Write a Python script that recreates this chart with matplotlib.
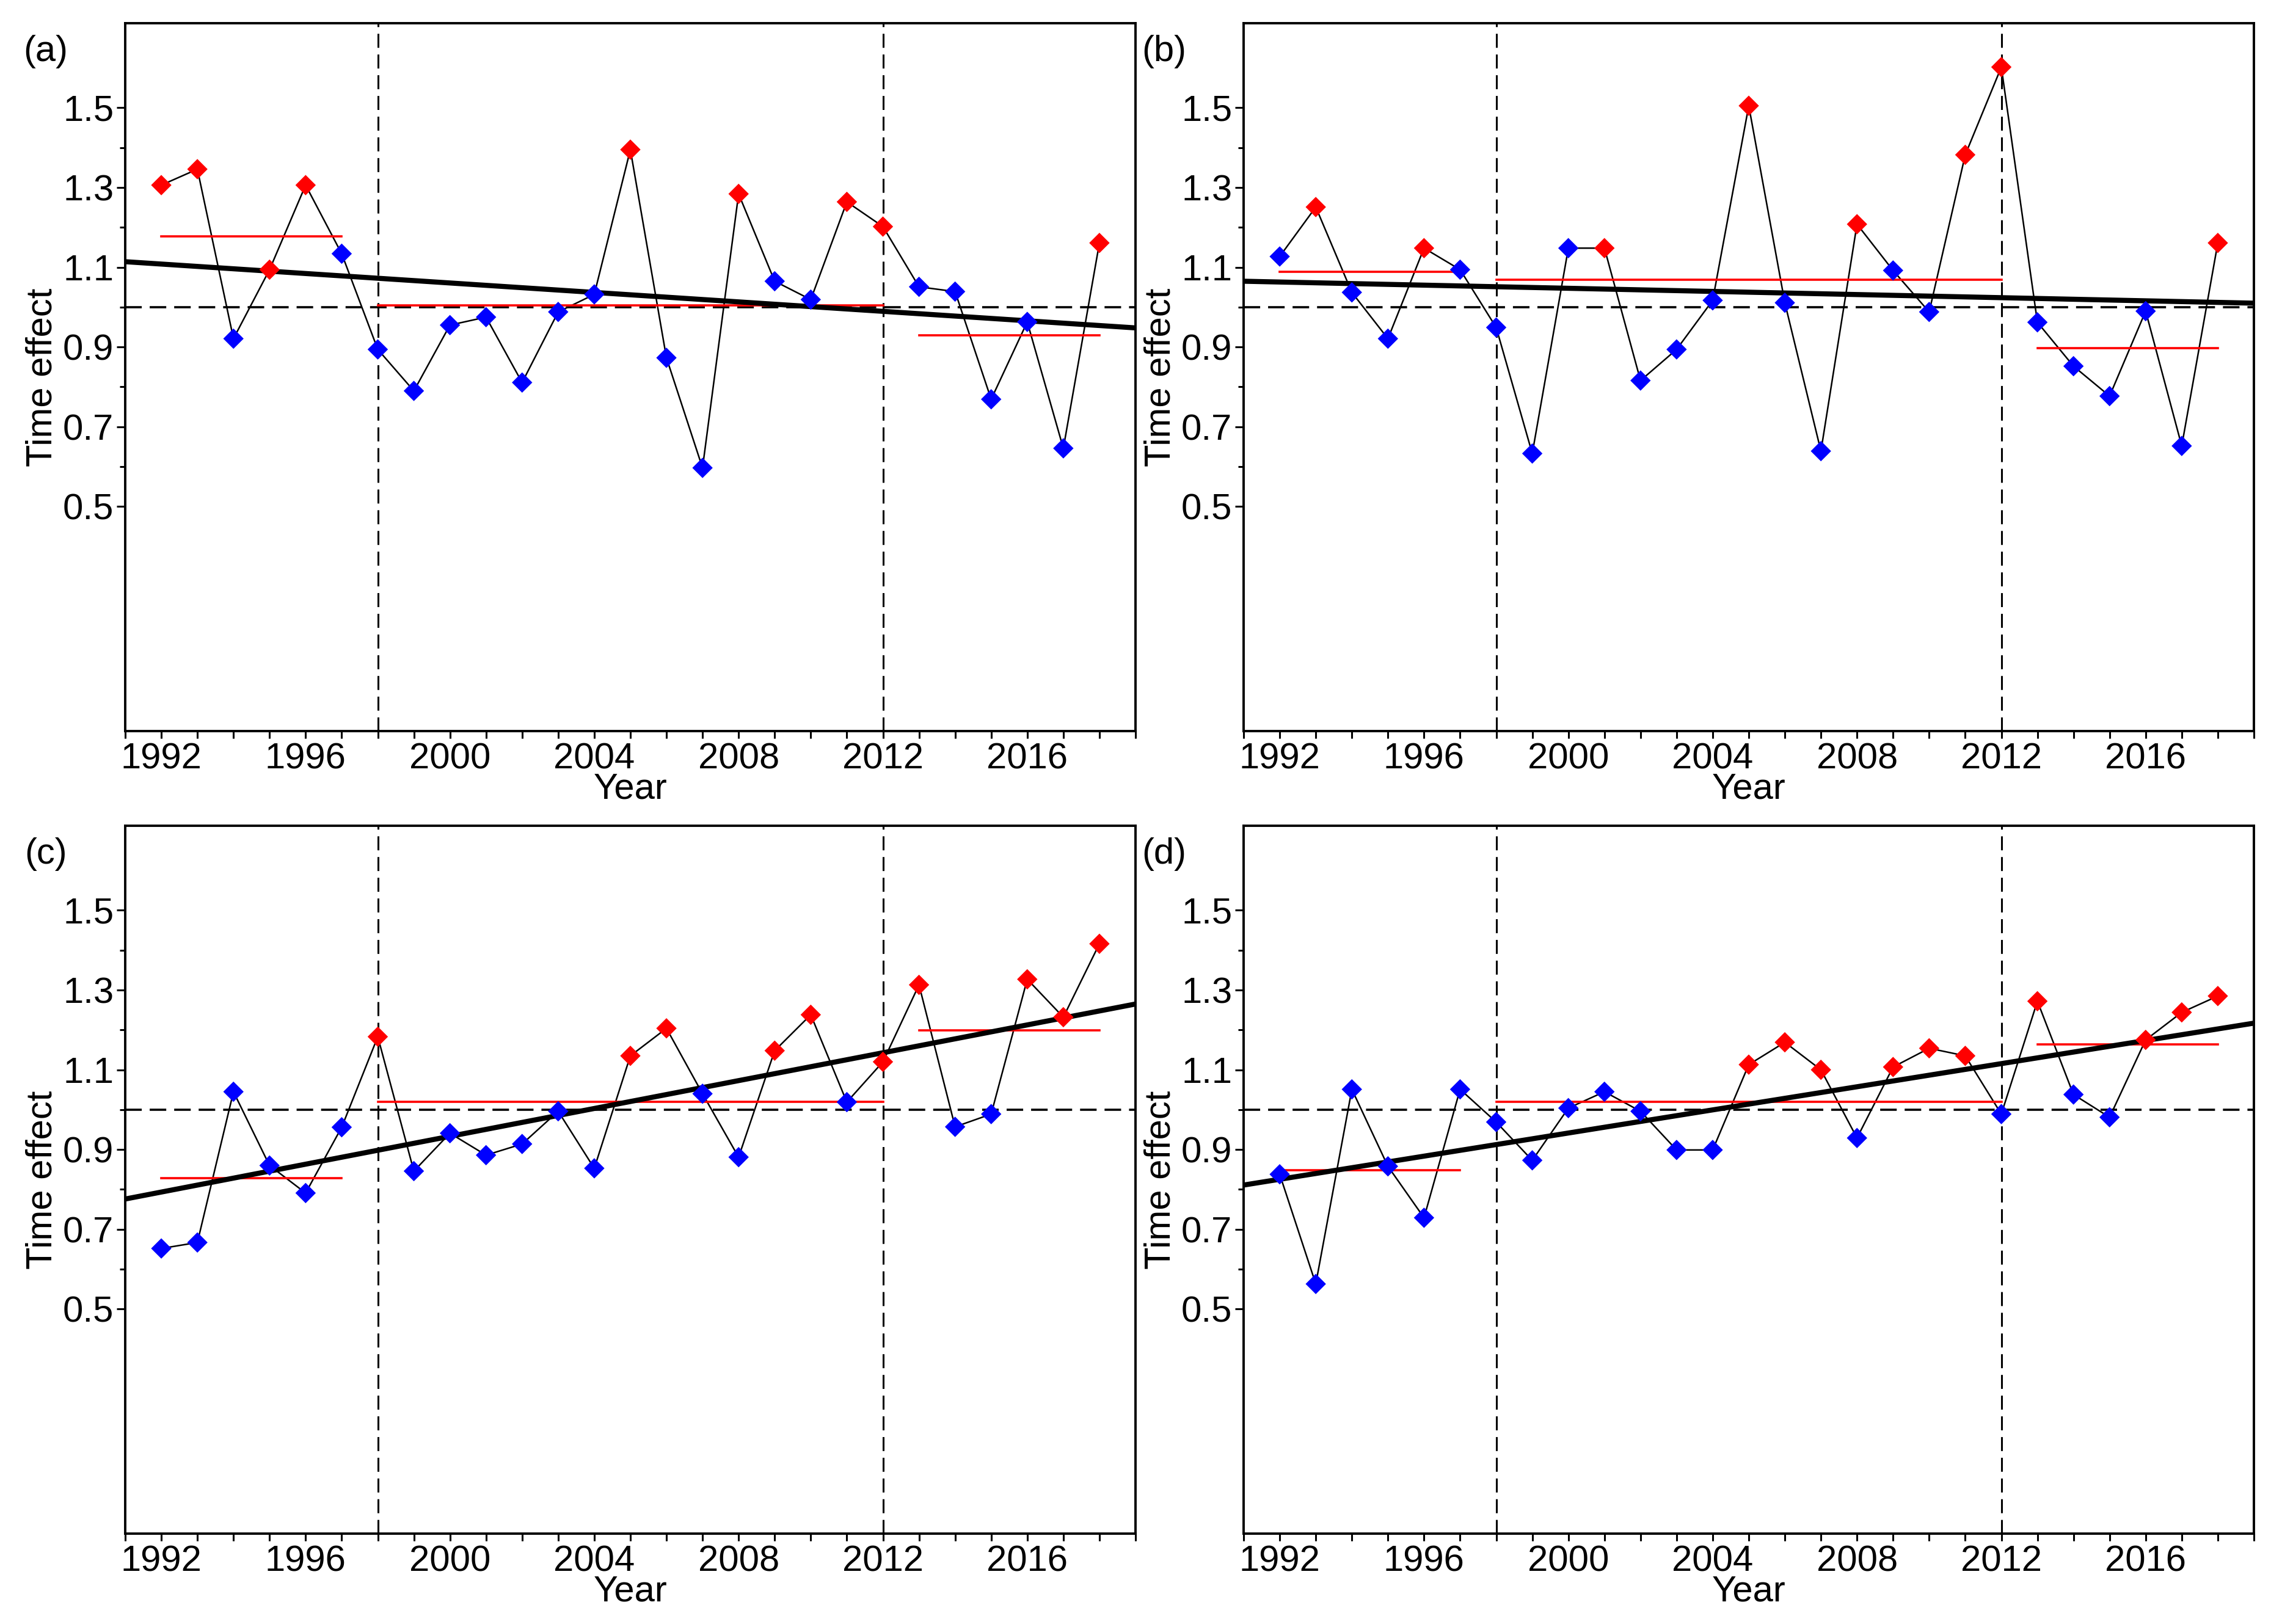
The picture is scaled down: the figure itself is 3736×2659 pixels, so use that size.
import numpy as np
import matplotlib
matplotlib.use("Agg")
import matplotlib.pyplot as plt
from matplotlib.ticker import MultipleLocator, FixedLocator

plt.rcParams['font.family'] = ['Liberation Sans', 'DejaVu Sans']

years = list(range(1992, 2019))

vals_a = [1.306, 1.346, 0.921, 1.094, 1.306, 1.134, 0.894, 0.790, 0.955, 0.975,
          0.811, 0.988, 1.032, 1.395, 0.873, 0.597, 1.284, 1.065, 1.019, 1.264,
          1.202, 1.051, 1.039, 0.769, 0.963, 0.646, 1.161]
red_a = [1992, 1993, 1995, 1996, 2005, 2008, 2011, 2012, 2018]
means_a = [1.178, 1.005, 0.930]
trend_a = [1.114, 0.948]

vals_b = [1.127, 1.251, 1.037, 0.921, 1.148, 1.094, 0.949, 0.633, 1.148, 1.148,
          0.816, 0.894, 1.017, 1.505, 1.011, 0.639, 1.208, 1.092, 0.988, 1.382,
          1.602, 0.962, 0.852, 0.777, 0.990, 0.652, 1.161]
red_b = [1993, 1996, 2001, 2005, 2008, 2011, 2012, 2018]
means_b = [1.089, 1.069, 0.898]
trend_b = [1.065, 1.010]

vals_c = [0.652, 0.667, 1.045, 0.860, 0.791, 0.956, 1.183, 0.846, 0.941, 0.886,
          0.914, 0.996, 0.853, 1.135, 1.204, 1.040, 0.881, 1.148, 1.238, 1.019,
          1.120, 1.313, 0.957, 0.989, 1.327, 1.232, 1.416]
red_c = [1998, 2005, 2006, 2009, 2010, 2012, 2013, 2016, 2017, 2018]
means_c = [0.828, 1.020, 1.199]
trend_c = [0.776, 1.265]

vals_d = [0.838, 0.563, 1.051, 0.858, 0.729, 1.051, 0.969, 0.873, 1.004, 1.045,
          0.996, 0.899, 0.899, 1.113, 1.169, 1.100, 0.929, 1.107, 1.154, 1.135,
          0.989, 1.272, 1.038, 0.981, 1.175, 1.244, 1.285]
red_d = [2005, 2006, 2007, 2009, 2010, 2011, 2013, 2016, 2017, 2018]
means_d = [0.848, 1.020, 1.164]
trend_d = [0.811, 1.217]

periods = [(1992, 1997), (1998, 2012), (2013, 2018)]
breaks = [1998, 2012]
trend_x = [1991, 2019]
panel_labels = ['(a)', '(b)', '(c)', '(d)']
x_tick_labels = [1992, 1996, 2000, 2004, 2008, 2012, 2016]
y_tick_labels = [0.5, 0.7, 0.9, 1.1, 1.3, 1.5]

panels = [(vals_a, red_a, means_a, trend_a),
          (vals_b, red_b, means_b, trend_b),
          (vals_c, red_c, means_c, trend_c),
          (vals_d, red_d, means_d, trend_d)]

W, H = 3736, 2659
fig = plt.figure(figsize=(W / 100, H / 100), dpi=100)
lefts = [205 / W, 2036 / W]
bottoms = [1 - 1197 / H, 1 - 2511 / H]
aw = 1654 / W
ah = 1159 / H
positions = [(lefts[0], bottoms[0]), (lefts[1], bottoms[0]),
             (lefts[0], bottoms[1]), (lefts[1], bottoms[1])]

FS = 43
for i, (vals, reds, means, trend) in enumerate(panels):
    ax = fig.add_axes([positions[i][0], positions[i][1], aw, ah])
    ax.set_xlim(1991, 2019)
    ax.set_ylim(-0.063, 1.712)
    for b in breaks:
        ax.axvline(b, color='black', lw=2.2, linestyle=(0, (7.5, 3.6)), zorder=1)
    ax.axhline(1.0, color='black', lw=2.6, linestyle=(0, (7.5, 3.6)), zorder=1)
    ax.plot(years, vals, color='black', lw=1.8, zorder=2)
    for (p0, p1), m in zip(periods, means):
        ax.plot([p0, p1], [m, m], color='#ff0000', lw=2.6, zorder=3)
    ax.plot(trend_x, trend, color='black', lw=6, zorder=4, solid_capstyle='butt')
    cols = ['#ff0000' if y in reds else '#0000ff' for y in years]
    ax.scatter(years, vals, c=cols, marker='D', s=17 ** 2, linewidths=0, zorder=5)

    ax.xaxis.set_major_locator(FixedLocator(x_tick_labels))
    ax.xaxis.set_minor_locator(MultipleLocator(1))
    ax.yaxis.set_major_locator(FixedLocator(y_tick_labels))
    ax.yaxis.set_minor_locator(FixedLocator([0.6, 0.8, 1.0, 1.2, 1.4]))
    ax.set_yticklabels([f'{v:.1f}' for v in y_tick_labels])
    ax.set_xticklabels([str(v) for v in x_tick_labels])
    ax.tick_params(axis='x', which='both', direction='out', length=8.5, width=2.2,
                   labelsize=FS, pad=5)
    ax.tick_params(axis='y', which='major', direction='out', length=10, width=2.2,
                   labelsize=FS, pad=3.5)
    ax.tick_params(axis='y', which='minor', direction='out', length=6.5, width=2.2)
    for s in ax.spines.values():
        s.set_linewidth(2.8)
    ax.set_xlabel('Year', fontsize=FS, va='top')
    ax.xaxis.set_label_coords(0.5, -0.0586)
    ax.text(-0.082, 0.5, 'Time effect', rotation=90, ha='center', va='center',
            fontsize=FS, transform=ax.transAxes)
    ax.text(-0.0786, 0.9595, panel_labels[i], ha='center', va='center',
            fontsize=FS, transform=ax.transAxes)

fig.savefig('out.png', dpi=100)
